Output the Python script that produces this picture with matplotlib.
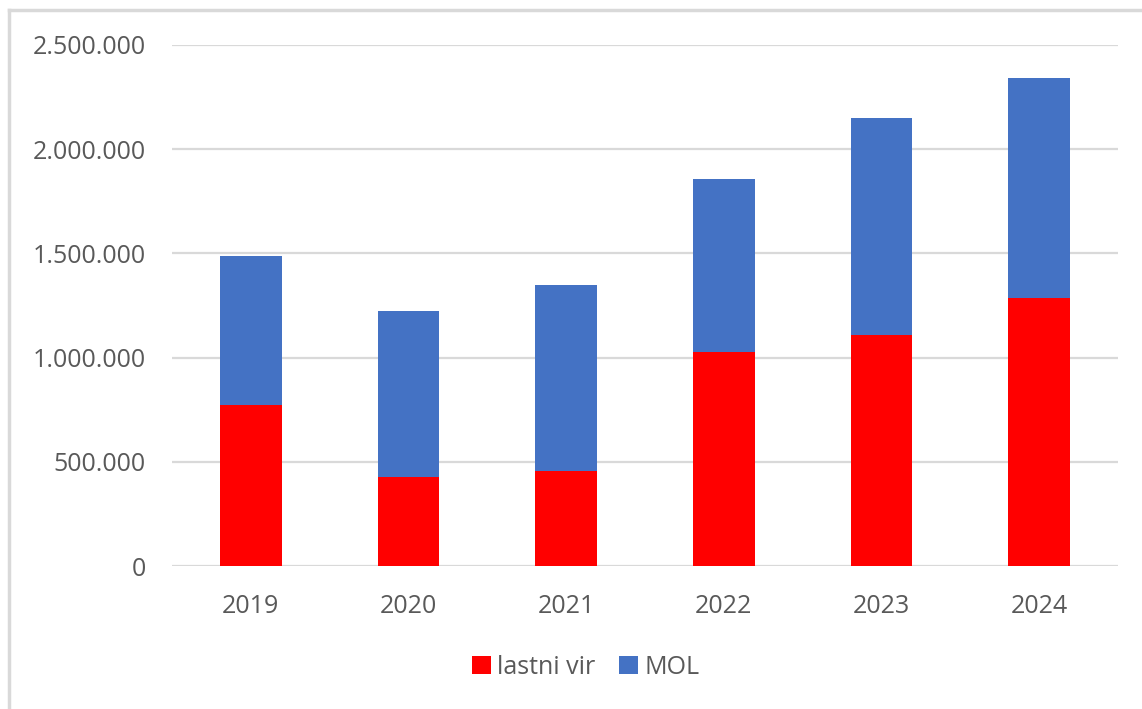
import matplotlib
matplotlib.use("Agg")
import matplotlib.pyplot as plt
from matplotlib.lines import Line2D
from matplotlib.ticker import FuncFormatter

years = ["2019", "2020", "2021", "2022", "2023", "2024"]
lastni_vir = [773000, 426000, 454000, 1028000, 1110000, 1287000]
mol = [714000, 796000, 893000, 828000, 1040000, 1053000]
yticks = [0, 500000, 1000000, 1500000, 2000000, 2500000]

W, H = 1142, 709
plt.rcParams["font.family"] = ["Open Sans", "DejaVu Sans"]
txt = "#595959"
grid = "#d9d9d9"

fig = plt.figure(figsize=(W / 100, H / 100), dpi=100)
ax = fig.add_axes([172 / W, 1 - 566 / H, (1118 - 172) / W, (566 - 45) / H])

x = range(len(years))
ax.bar(x, lastni_vir, width=0.393, color="#ff0000", label="lastni vir", zorder=3)
ax.bar(x, mol, width=0.393, bottom=lastni_vir, color="#4472c4", label="MOL", zorder=3)

ax.set_xlim(-0.5, len(years) - 0.5)
ax.set_ylim(0, 2500000)
ax.set_yticks(yticks)
ax.yaxis.set_major_formatter(FuncFormatter(lambda v, p: f"{int(v):,}".replace(",", ".")))
ax.set_xticks(list(x))
ax.set_xticklabels(years)
ax.grid(axis="y", color=grid, linewidth=1.6, zorder=0)
for s in ax.spines.values():
    s.set_visible(False)
ax.tick_params(axis="both", length=0, labelsize=18, labelcolor=txt)
ax.tick_params(axis="y", pad=19)
ax.tick_params(axis="x", pad=20)

fig.legend(loc="center", bbox_to_anchor=(586 / W, 1 - 667 / H), ncol=2, frameon=False,
           fontsize=18, labelcolor=txt, handlelength=0.75, handleheight=0.75,
           handletextpad=0.25, columnspacing=0.95)

# chart border (only top and left edges fall inside the picture)
fig.add_artist(Line2D([9 / W, 9 / W], [0, 1 - 10 / H], color=grid, linewidth=2.5))
fig.add_artist(Line2D([9 / W, 1], [1 - 10 / H, 1 - 10 / H], color=grid, linewidth=2.5))

fig.savefig("out.png", dpi=100)
